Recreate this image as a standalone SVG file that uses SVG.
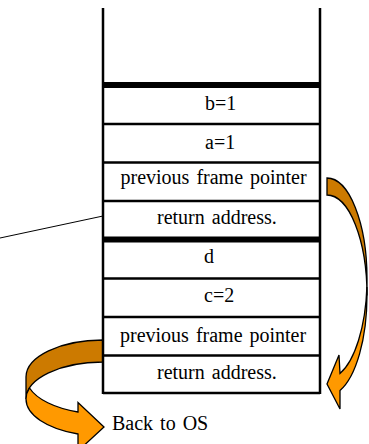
<svg xmlns="http://www.w3.org/2000/svg" width="369" height="444" viewBox="0 0 369 444">
<style>
.t{font-family:"Liberation Serif","Times New Roman",serif;font-size:20px;fill:#000}
.w{word-spacing:2px}
.ln{stroke:#000;stroke-width:2.5;fill:none}
.thick{stroke:#000;stroke-width:6;fill:none}
.dark{fill:#CC7A00;stroke:#000;stroke-width:1.3}
.light{fill:#FF9900;stroke:#000;stroke-width:1.3}
</style>
<rect width="369" height="444" fill="#fff"/>
<g id="connectors">
<line x1="0" y1="238" x2="103" y2="216" stroke="#000" stroke-width="1"/>
<g id="arrow-left">
<path class="dark" d="M103,340 A77,37 0 0 0 26,377 L26,399 A77,37 0 0 1 103,362 Z"/>
<path class="light" d="M29.5,388 A77,37 0 0 0 78,412 L78,402.5 L104,427 L78,451 L78,434 A77,37 0 0 1 26,399 A77,37 0 0 1 29.5,388 Z"/>
</g>
<g id="arrow-right">
<path class="dark" d="M327,178 A40,100.5 0 0 1 367,278.5 L367,295.5 A40,100.5 0 0 0 327,195 Z"/>
<path class="light" d="M366.9,287 A40,100.5 0 0 1 340,373.5 L339,355 L327,384 L340,409 L340,390.5 A40,100.5 0 0 0 367,295.5 A40,100.5 0 0 0 366.9,287 Z"/>
</g>
</g>
<g id="stack">
<line class="ln" x1="103" y1="8" x2="103" y2="394"/>
<line class="ln" x1="320" y1="8" x2="320" y2="394"/>
<line class="thick" x1="103" y1="85" x2="320" y2="85"/>
<line class="thick" x1="103" y1="239.5" x2="320" y2="239.5"/>
<line class="ln" x1="103" y1="393" x2="320" y2="393"/>
</g>
<g id="cell-b">
<text class="t" x="205" y="110">b=1</text>
<line class="ln" x1="103" y1="124" x2="320" y2="124"/>
</g>
<g id="cell-a">
<text class="t" x="205" y="149">a=1</text>
<line class="ln" x1="103" y1="162.5" x2="320" y2="162.5"/>
</g>
<g id="cell-pfp1">
<text class="t w" x="120.5" y="184">previous frame pointer</text>
<line class="ln" x1="103" y1="201" x2="320" y2="201"/>
</g>
<g id="cell-ra1">
<text class="t w" x="157" y="224">return address.</text>
</g>
<g id="cell-d">
<text class="t" x="204" y="263">d</text>
<line class="ln" x1="103" y1="278.5" x2="320" y2="278.5"/>
</g>
<g id="cell-c">
<text class="t" x="204" y="302">c=2</text>
<line class="ln" x1="103" y1="317" x2="320" y2="317"/>
</g>
<g id="cell-pfp2">
<text class="t w" x="120" y="341.5">previous frame pointer</text>
<line class="ln" x1="103" y1="355.5" x2="320" y2="355.5"/>
</g>
<g id="cell-ra2">
<text class="t w" x="157" y="379">return address.</text>
</g>
<g id="label-os">
<text class="t w" x="112" y="430">Back to OS</text>
</g>
</svg>
